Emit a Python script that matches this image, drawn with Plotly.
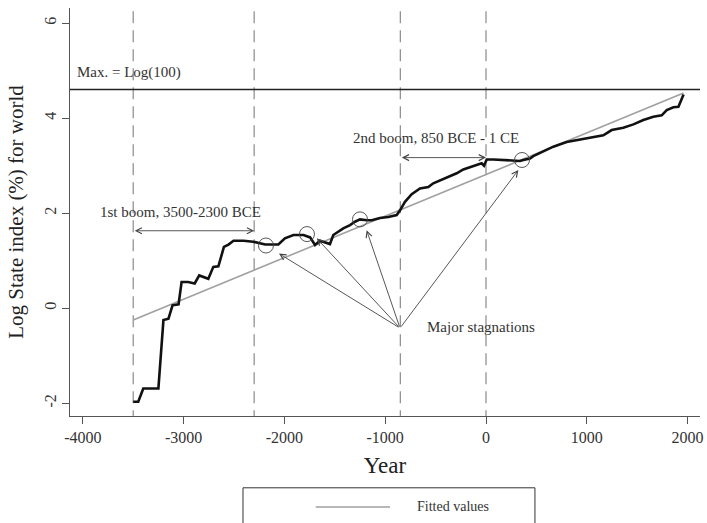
import math
import plotly.graph_objects as go

# ---- data ----
years = [-3500, -3450, -3400, -3250, -3200, -3150, -3110, -3050, -3020, -2955,
         -2890, -2845, -2755, -2705, -2655, -2600, -2555, -2505, -2405, -2310,
         -2190, -2060, -1995, -1910, -1810, -1745, -1696, -1647, -1548, -1515,
         -1416, -1349, -1300, -1250, -1184, -1134, -1052, -969, -886, -853,
         -804, -737, -655, -572, -523, -456, -390, -291, -225, -159,
         -92, -43, -20, 7, 73, 205, 337, 370, 437, 469,
         552, 668, 800, 933, 1065, 1164, 1247, 1362, 1462, 1561,
         1660, 1743, 1793, 1859, 1909, 1960]
state_index = [-1.97, -1.97, -1.69, -1.69, -0.25, -0.22, 0.06, 0.08, 0.55, 0.55,
               0.52, 0.69, 0.62, 0.87, 0.88, 1.29, 1.34, 1.42, 1.42, 1.40,
               1.34, 1.34, 1.47, 1.54, 1.54, 1.49, 1.33, 1.42, 1.35, 1.54,
               1.68, 1.75, 1.82, 1.87, 1.85, 1.85, 1.90, 1.92, 1.96, 2.06,
               2.24, 2.40, 2.52, 2.55, 2.63, 2.69, 2.76, 2.84, 2.92, 2.97,
               3.01, 3.05, 3.00, 3.13, 3.13, 3.12, 3.10, 3.12, 3.15, 3.20,
               3.29, 3.40, 3.50, 3.55, 3.59, 3.64, 3.75, 3.80, 3.87, 3.96,
               4.03, 4.06, 4.17, 4.23, 4.24, 4.50]

fit_years = [-3500, 1960]
fit_values = [-0.25, 4.53]

stag_years = [-2183, -1776, -1250, 357]
stag_values = [1.32, 1.56, 1.87, 3.12]
arrow_head_years = [-2054, -1679, -1184, 321]
arrow_head_values = [1.15, 1.47, 1.64, 2.91]
arrow_apex = (-853, -0.42)

boom_bounds = [-3500, -2300, -850, 0]
max_value = math.log(100)

x_ticks = [-4000, -3000, -2000, -1000, 0, 1000, 2000]
y_ticks = [-2, 0, 2, 4, 6]

FONT = "Liberation Serif"
fig = go.Figure()

# dashed vertical lines
for b in boom_bounds:
    fig.add_trace(go.Scatter(x=[b, b], y=[-2.4, 6.6], mode="lines",
                             line=dict(color="#8a8a8a", width=1.2, dash="12px,7px"),
                             showlegend=False, hoverinfo="skip"))

# max line
fig.add_trace(go.Scatter(x=[-4200, 2200], y=[max_value, max_value], mode="lines",
                         line=dict(color="#222222", width=1.6),
                         showlegend=False, hoverinfo="skip"))

# fitted values
fig.add_trace(go.Scatter(x=fit_years, y=fit_values, mode="lines",
                         line=dict(color="#a0a0a0", width=1.6),
                         name="Fitted values", showlegend=False))

# state index
fig.add_trace(go.Scatter(x=years, y=state_index, mode="lines",
                         line=dict(color="#111111", width=2.6),
                         name="Log State index", showlegend=False))

# stagnation circles
fig.add_trace(go.Scatter(x=stag_years, y=stag_values, mode="markers",
                         marker=dict(symbol="circle-open", size=15, color="#444444",
                                     line=dict(color="#444444", width=0.9)),
                         showlegend=False, hoverinfo="skip"))

# arrows from apex to stagnations
for hx, hy in zip(arrow_head_years, arrow_head_values):
    fig.add_annotation(x=hx, y=hy, ax=arrow_apex[0], ay=arrow_apex[1],
                       xref="x", yref="y", axref="x", ayref="y", text="",
                       showarrow=True, arrowhead=5, arrowsize=1.3,
                       arrowwidth=0.9, arrowcolor="#444444", standoff=0)

# double arrows for booms
fig.add_annotation(x=-2300, y=1.63, ax=-3500, ay=1.63, xref="x", yref="y",
                   axref="x", ayref="y", text="", showarrow=True,
                   arrowhead=5, startarrowhead=5, arrowside="end+start",
                   arrowsize=1.3, startarrowsize=1.3, arrowwidth=0.9,
                   arrowcolor="#444444", standoff=0, startstandoff=0)
fig.add_annotation(x=0, y=3.17, ax=-850, ay=3.17, xref="x", yref="y",
                   axref="x", ayref="y", text="", showarrow=True,
                   arrowhead=5, startarrowhead=5, arrowside="end+start",
                   arrowsize=1.3, startarrowsize=1.3, arrowwidth=0.9,
                   arrowcolor="#444444", standoff=0, startstandoff=0)

txt_font = dict(family=FONT, size=15, color="#333333")
fig.add_annotation(x=-4080, y=4.97, text="Max. = Log(100)", showarrow=False,
                   xanchor="left", yanchor="middle", font=txt_font)
fig.add_annotation(x=-3026, y=2.03, text="1st boom, 3500-2300 BCE", showarrow=False,
                   xanchor="center", yanchor="middle", font=txt_font)
fig.add_annotation(x=-496, y=3.58, text="2nd boom, 850 BCE - 1 CE", showarrow=False,
                   xanchor="center", yanchor="middle", font=txt_font)
fig.add_annotation(x=-610, y=-0.40, text="Major stagnations", showarrow=False,
                   xanchor="left", yanchor="middle", font=txt_font)

# manual legend box (paper coordinates)
fig.add_shape(type="rect", xref="paper", yref="paper",
              x0=0.2746, x1=0.738, y0=-0.40, y1=-0.176,
              line=dict(color="#333333", width=1), fillcolor="rgba(0,0,0,0)")
fig.add_shape(type="line", xref="paper", yref="paper",
              x0=0.390, x1=0.508, y0=-0.223, y1=-0.223,
              line=dict(color="#a0a0a0", width=1.6))
fig.add_annotation(xref="paper", yref="paper", x=0.548, y=-0.223,
                   text="Fitted values", showarrow=False, xanchor="left",
                   yanchor="middle", font=dict(family=FONT, size=14, color="#333333"))

fig.update_layout(
    width=707, height=523,
    margin=dict(l=70, r=7, t=8, b=107),
    paper_bgcolor="white", plot_bgcolor="white",
    font=dict(family=FONT, color="#333333"),
    showlegend=False,
)
fig.update_xaxes(range=[-4127, 2123], tickvals=x_ticks,
                 ticktext=[str(v) for v in x_ticks], automargin=False,
                 showgrid=False, zeroline=False, showline=True,
                 linecolor="#555555", linewidth=1, ticks="outside",
                 ticklen=7, tickcolor="#555555",
                 tickfont=dict(family=FONT, size=16, color="#333333"),
                 title=dict(text="Year", font=dict(family=FONT, size=23, color="#222222"),
                            standoff=11))
fig.update_yaxes(range=[-2.27, 6.32], tickvals=y_ticks,
                 ticktext=[str(v) for v in y_ticks], tickangle=-90,
                 automargin=False, ticklabelstandoff=0,
                 showgrid=False, zeroline=False, showline=True,
                 linecolor="#555555", linewidth=1, ticks="outside",
                 ticklen=7, tickcolor="#555555",
                 tickfont=dict(family=FONT, size=16, color="#333333"),
                 title=dict(text="Log State index (%) for world",
                            font=dict(family=FONT, size=21, color="#222222"),
                            standoff=12))

fig.write_html("out.html", config={"displayModeBar": False},
               post_script="document.body.style.margin='0';"
                           "document.body.style.overflow='hidden';")
